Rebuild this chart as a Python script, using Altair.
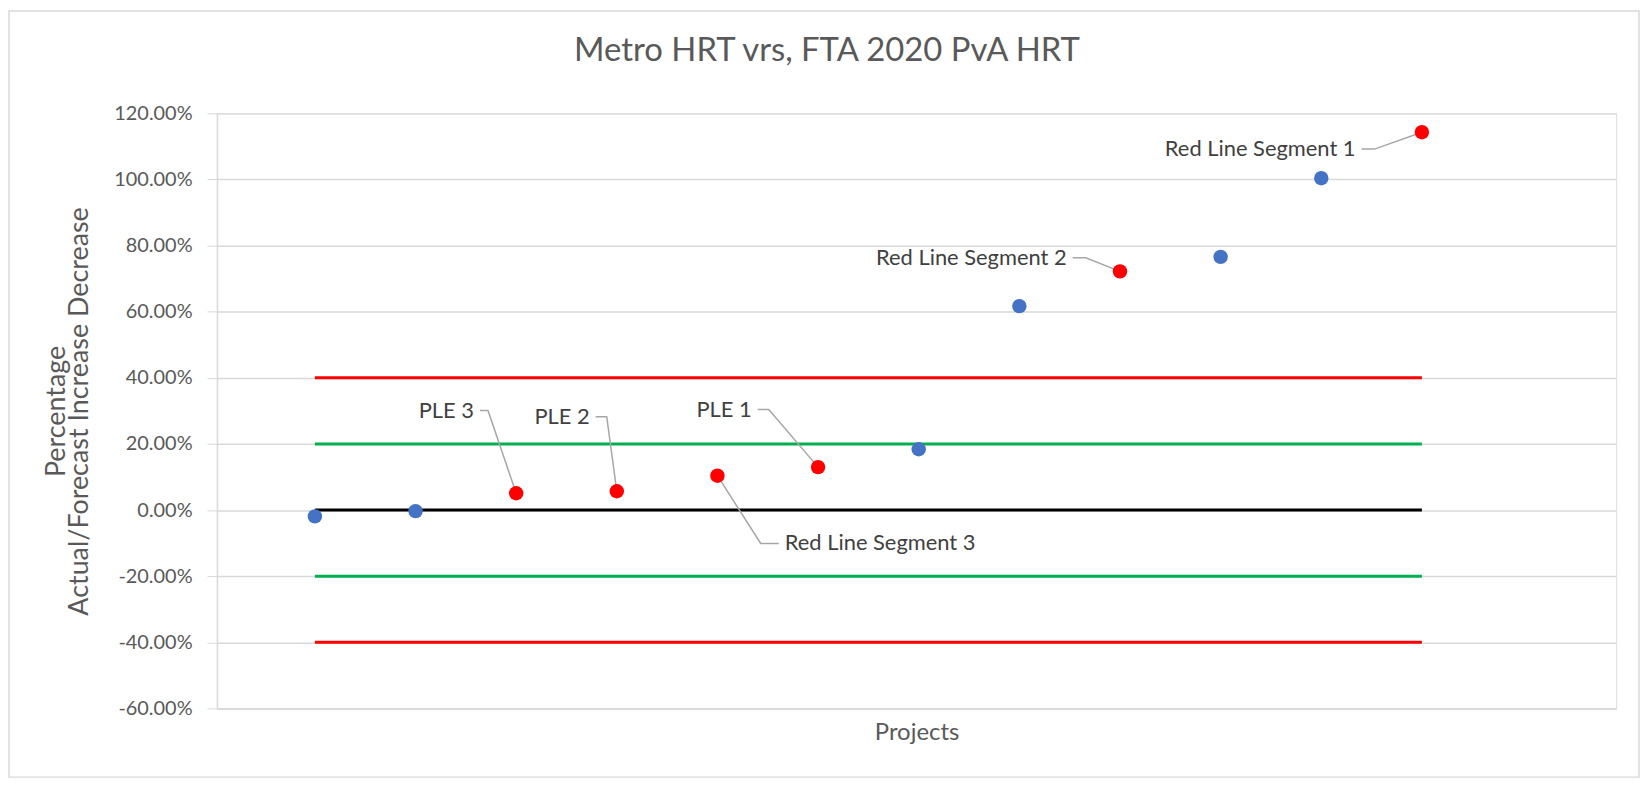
import altair as alt
import pandas as pd

# ---------------- data ----------------
project_index = [1, 2, 3, 4, 5, 6, 7, 8, 9, 10, 11, 12]
pct_change = [-0.019, -0.003, 0.051, 0.057, 0.104, 0.130, 0.184, 0.617, 0.722, 0.766, 1.004, 1.143]
point_group = ["Metro", "Metro", "Red", "Red", "Red", "Red", "Metro", "Metro", "Red", "Metro", "Metro", "Red"]

threshold_levels = [0.40, 0.20, 0.0, -0.20, -0.40]
threshold_colors = ["#FF0000", "#00B050", "#000000", "#00B050", "#FF0000"]
threshold_start = [1, 1, 1, 1, 1]
threshold_end = [12, 12, 12, 12, 12]

label_text = ["PLE 3", "PLE 2", "PLE 1", "Red Line Segment 3", "Red Line Segment 2", "Red Line Segment 1"]
label_target = [3, 4, 6, 5, 9, 12]
label_anchor_x = [2.64, 3.79, 5.40, 5.61, 8.53, 11.40]
label_elbow_x = [2.72, 3.90, 5.51, 5.43, 8.66, 11.53]
label_y = [0.301, 0.282, 0.304, -0.101, 0.763, 1.092]
label_align = ["right", "right", "right", "left", "right", "right"]

y_ticks = [-0.6, -0.4, -0.2, 0.0, 0.2, 0.4, 0.6, 0.8, 1.0, 1.2]
chart_title = "Metro HRT vrs, FTA 2020 PvA HRT"

# ---------------- tables ----------------
points = pd.DataFrame({"x": project_index, "y": pct_change, "group": point_group})
thresholds = pd.DataFrame({"x": threshold_start, "x2": threshold_end,
                           "y": threshold_levels, "color": threshold_colors})

leader_rows = []
for i, t in enumerate(label_text):
    tx = label_target[i]
    ty = pct_change[project_index.index(tx)]
    leader_rows.append({"label": t, "order": 0, "x": label_anchor_x[i], "y": label_y[i]})
    leader_rows.append({"label": t, "order": 1, "x": label_elbow_x[i], "y": label_y[i]})
    leader_rows.append({"label": t, "order": 2, "x": tx, "y": ty})
leaders = pd.DataFrame(leader_rows)
labels = pd.DataFrame({"label": label_text, "x": label_anchor_x, "y": label_y, "align": label_align})

FONT = "Lato"
GREY = "#595959"
W, H = 1406, 598

x_scale = alt.Scale(domain=[0.027, 13.93], nice=False, zero=False)
y_scale = alt.Scale(domain=[-0.6, 1.2], nice=False, zero=False)

x_axis = alt.Axis(title="Projects", labels=False, ticks=False, grid=False,
                  domainColor="#d9d9d9", domainWidth=1.5,
                  titleFont=FONT, titleFontSize=24, titleFontWeight="normal",
                  titleColor=GREY, titleY=31, titleBaseline="alphabetic")
y_axis = alt.Axis(title=["Percentage", "Actual/Forecast Increase Decrease"],
                  values=y_ticks, grid=True, gridColor="#d9d9d9", gridWidth=1.5,
                  domainColor="#d9d9d9", domainWidth=1.5, tickColor="#d9d9d9", tickSize=10,
                  labelPadding=15, labelFont=FONT, labelFontSize=20, labelColor=GREY,
                  labelExpr="(datum.value < 0 ? '-' : '') + format(abs(datum.value), '.2%')",
                  titleFont=FONT, titleFontSize=27, titleFontWeight="normal", titleColor=GREY,
                  titleAngle=-90, titleX=-161, titleY=299, titleAlign="center",
                  titleBaseline="middle", titleLineHeight=23)

X = lambda f="x": alt.X(f"{f}:Q", scale=x_scale, axis=x_axis)
Y = lambda f="y": alt.Y(f"{f}:Q", scale=y_scale, axis=y_axis)

border = alt.Chart(pd.DataFrame({"k": [0]})).mark_rect(
    fill="transparent", stroke="#d9d9d9", strokeWidth=1.5
).encode(x=alt.value(-209), x2=alt.value(W + 23), y=alt.value(-103), y2=alt.value(667))

title = alt.Chart(pd.DataFrame({"t": [chart_title]})).mark_text(
    align="center", baseline="alphabetic", font=FONT, fontSize=33, color=GREY
).encode(x=alt.value(613), y=alt.value(-53), text="t:N")

lines = alt.Chart(thresholds).mark_rule(strokeWidth=3).encode(
    x=X(), x2="x2:Q", y=Y(), color=alt.Color("color:N", scale=None)
)

leader_lines = alt.Chart(leaders).mark_line(color="#a6a6a6", strokeWidth=1.5).encode(
    x=X(), y=Y(), detail="label:N", order="order:Q"
)

dots = alt.Chart(points).mark_circle(size=210, opacity=1).encode(
    x=X(), y=Y(),
    color=alt.Color("group:N", scale=alt.Scale(domain=["Metro", "Red"], range=["#4472C4", "#FF0000"]),
                    legend=None)
)

text_right = alt.Chart(labels).transform_filter("datum.align == 'right'").mark_text(
    align="right", baseline="middle", dx=-6, font=FONT, fontSize=22, color="#404040"
).encode(x=X(), y=Y(), text="label:N")

text_left = alt.Chart(labels).transform_filter("datum.align == 'left'").mark_text(
    align="left", baseline="middle", dx=6, font=FONT, fontSize=22, color="#404040"
).encode(x=X(), y=Y(), text="label:N")

chart = alt.layer(border, title, lines, leader_lines, dots, text_right, text_left).properties(
    width=W, height=H,
    autosize=alt.AutoSizeParams(type="none"),
    padding={"left": 210, "top": 104, "right": 25, "bottom": 71},
).configure_view(stroke=None).configure(background="white")

chart.save("out.html", embed_options={"renderer": "svg", "actions": False})
